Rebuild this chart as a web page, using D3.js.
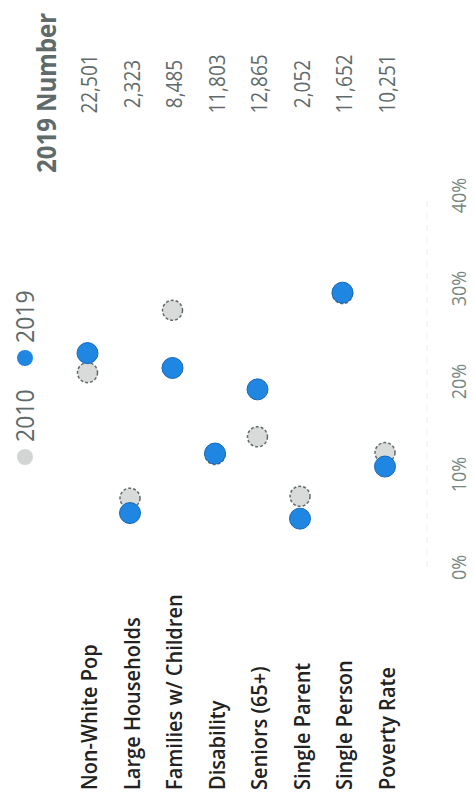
<!DOCTYPE html>
<html>
<head>
<meta charset="utf-8">
<script src="https://cdn.jsdelivr.net/npm/d3@7"></script>
<style>
  html, body { margin: 0; padding: 0; background: #fff; }
  svg { display: block; font-family: "Open Sans", "Noto Sans", sans-serif; }
</style>
</head>
<body>
<div id="chart"></div>
<script>
// données (en %)
var categories = ["Non-White Pop", "Large Households", "Families w/ Children", "Disability",
                  "Seniors (65+)", "Single Parent", "Single Person", "Poverty Rate"];
var values2010 = [20.9, 7.4, 27.6, 12.1, 14.0, 7.6, 29.4, 12.3];
var values2019 = [23.0, 5.8, 21.4, 12.2, 19.1, 5.2, 29.5, 10.8];
var numbers2019 = ["22,501", "2,323", "8,485", "11,803", "12,865", "2,052", "11,652", "10,251"];
var tickValues = [0, 10, 20, 30, 40];
var legendItems = ["2010", "2019"];

var width = 474, height = 807;
var blue = "#1f86e2", grey = "#d8dbda", textGrey = "#5f6a6b";

var svg = d3.select("#chart").append("svg")
  .attr("width", width)
  .attr("height", height);

svg.append("rect").attr("width", width).attr("height", height).attr("fill", "#fff");

// le graphique est tourné de 90° : l'axe des valeurs est vertical
var y = d3.scaleLinear().domain([0, 40]).range([567, 195]);
var x = d3.scalePoint().domain(categories).range([87.5, 385]);

// ligne très pâle
svg.append("line")
  .attr("x1", 427).attr("x2", 427)
  .attr("y1", y(0)).attr("y2", y(40))
  .attr("stroke", "#efefef")
  .attr("stroke-dasharray", "6,6");

// axe
var axis = svg.append("g")
  .attr("transform", "translate(459,0)")
  .call(d3.axisRight(y).tickValues(tickValues).tickFormat(function(d) { return d + "%"; })
    .tickSize(0).tickPadding(0));
axis.select(".domain").remove();
axis.selectAll("text")
  .attr("x", 0)
  .attr("dy", "0.35em")
  .attr("text-anchor", "middle")
  .attr("transform", "rotate(-90) scale(1,1.12)")
  .attr("fill", "#76877f")
  .style("font-size", "18px")
  .style("font-family", "'Open Sans', sans-serif");

// étiquettes des catégories
svg.selectAll("text.cat")
  .data(categories)
  .enter().append("text")
    .attr("class", "cat")
    .attr("transform", function(d) { return "translate(" + (x(d) + 2) + ",790) rotate(-90) scale(1,1.1)"; })
    .attr("dy", "0.35em")
    .attr("fill", "#222")
    .style("font-size", "20px")
    .style("font-weight", 600)
    .text(function(d) { return d; });

// colonne 2019 Number
svg.append("text")
  .attr("transform", "translate(47,173) rotate(-90) scale(1,1.12)")
  .attr("dy", "0.35em")
  .attr("fill", textGrey)
  .style("font-size", "24px")
  .style("font-weight", 700)
  .text("2019 Number");

svg.selectAll("text.num")
  .data(numbers2019)
  .enter().append("text")
    .attr("class", "num")
    .attr("transform", function(d, i) { return "translate(" + (x(categories[i]) + 2) + ",84) rotate(-90) scale(1,1.15)"; })
    .attr("dy", "0.35em")
    .attr("text-anchor", "middle")
    .attr("fill", textGrey)
    .style("font-size", "19px")
    .text(function(d) { return d; });

// points 2010
svg.selectAll("circle.y2010")
  .data(values2010)
  .enter().append("circle")
    .attr("class", "y2010")
    .attr("cx", function(d, i) { return x(categories[i]); })
    .attr("cy", function(d) { return y(d); })
    .attr("r", 10)
    .attr("fill", grey)
    .attr("stroke", "#5f6b6b")
    .attr("stroke-width", 1.5)
    .attr("stroke-dasharray", "3,2");

// points 2019
svg.selectAll("circle.y2019")
  .data(values2019)
  .enter().append("circle")
    .attr("class", "y2019")
    .attr("cx", function(d, i) { return x(categories[i]); })
    .attr("cy", function(d) { return y(d); })
    .attr("r", 10.5)
    .attr("fill", blue)
    .attr("stroke", "#1a68b8")
    .attr("stroke-width", 1);

// légende
var legendY = d3.scalePoint().domain(legendItems).range([457, 358]);
var leg = svg.append("g").attr("transform", "translate(25,0)");
leg.selectAll("circle")
  .data(legendItems)
  .enter().append("circle")
    .attr("cx", 0)
    .attr("cy", function(d) { return legendY(d); })
    .attr("r", 8)
    .attr("fill", function(d, i) { return i === 0 ? "#d3d5d5" : blue; });
leg.selectAll("text")
  .data(legendItems)
  .enter().append("text")
    .attr("transform", function(d) { return "translate(0," + (legendY(d) - 15) + ") rotate(-90) scale(1,1.1)"; })
    .attr("dy", "0.35em")
    .attr("fill", textGrey)
    .style("font-size", "23px")
    .text(function(d) { return d; });
</script>
</body>
</html>
